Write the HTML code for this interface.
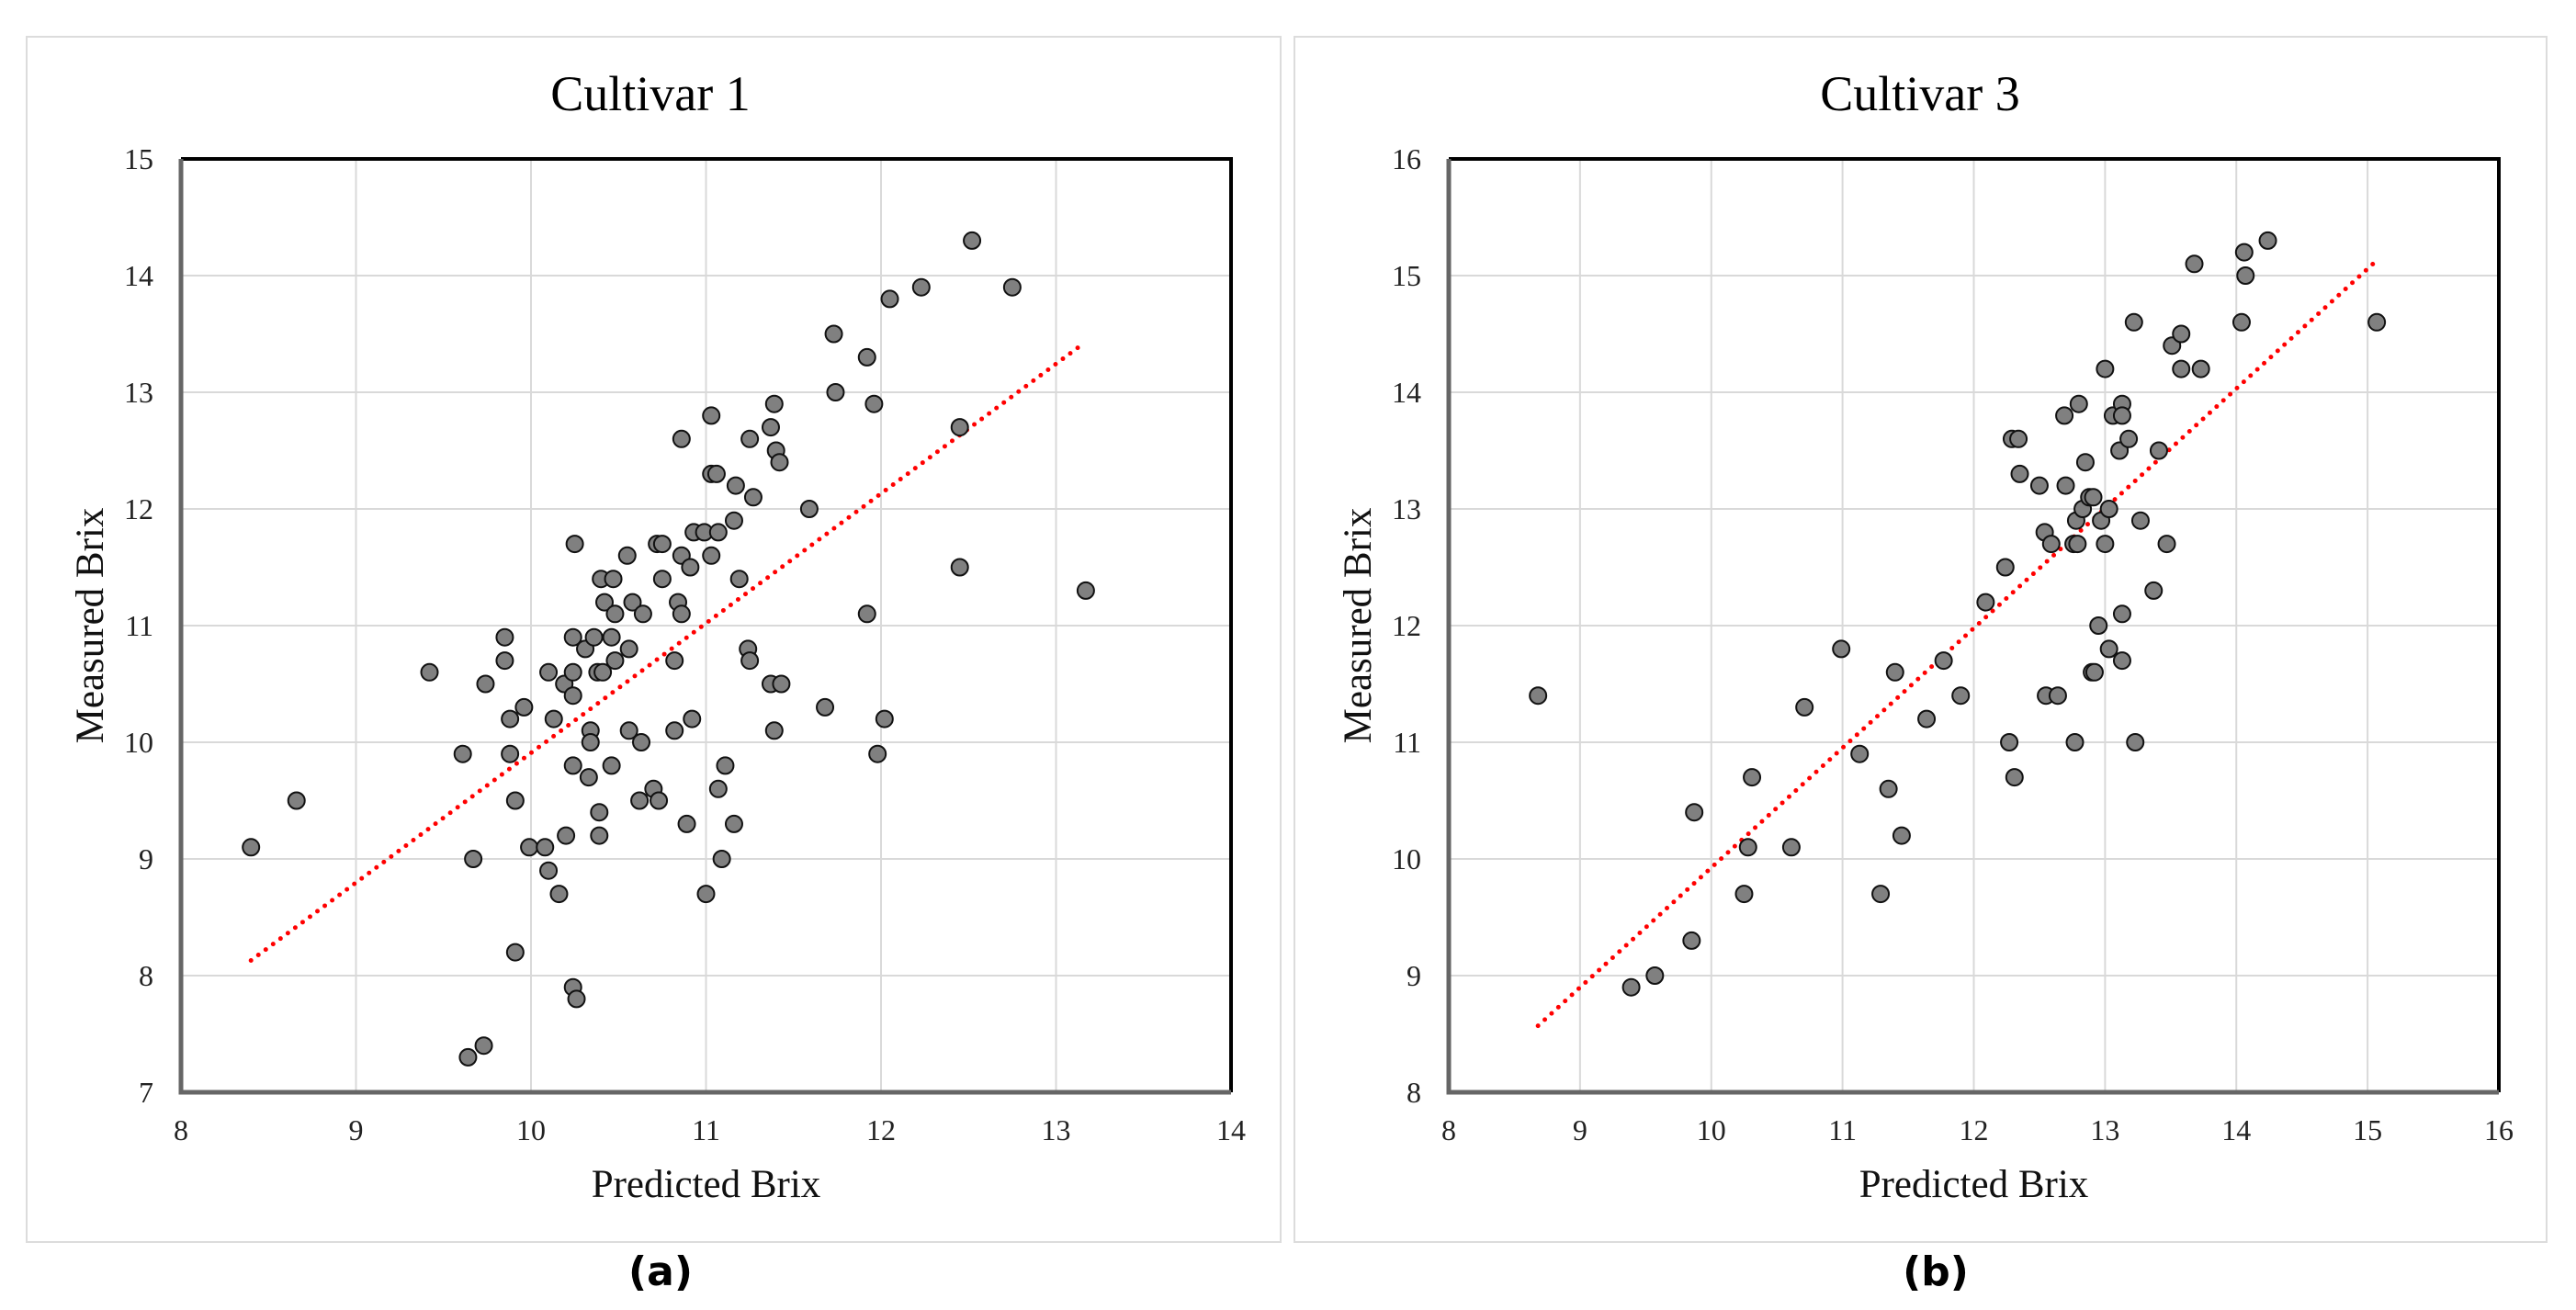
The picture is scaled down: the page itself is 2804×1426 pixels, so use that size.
<!DOCTYPE html>
<html><head><meta charset="utf-8"><style>
html,body{margin:0;padding:0;background:#fff;}
svg{display:block;}
</style></head><body>
<svg id="fig" width="2804" height="1426" viewBox="0 0 2804 1426" xmlns="http://www.w3.org/2000/svg">
<rect x="0" y="0" width="2804" height="1426" fill="#fff"/>
<rect x="29" y="40" width="1365" height="1312" fill="none" stroke="#dcdcdc" stroke-width="2"/>
<rect x="1409" y="40" width="1363" height="1312" fill="none" stroke="#dcdcdc" stroke-width="2"/>
<g id="chartA"></g>
<g id="chartB"></g>
<text x="719" y="1399" text-anchor="middle" font-family="DejaVu Sans, Liberation Sans, sans-serif" font-weight="bold" font-size="44">(a)</text>
<text x="2107" y="1399" text-anchor="middle" font-family="DejaVu Sans, Liberation Sans, sans-serif" font-weight="bold" font-size="44">(b)</text>
</svg>
<script>
// Cultivar 1 data
const predA = [8.40,8.66,9.42,9.61,9.64,9.67,9.73,9.74,9.85,9.85,9.88,9.88,9.91,9.91,9.96,9.99,10.08,10.10,10.10,10.13,10.16,10.19,10.20,10.24,10.24,10.24,10.24,10.24,10.25,10.26,10.31,10.33,10.34,10.34,10.36,10.38,10.39,10.39,10.40,10.41,10.42,10.46,10.46,10.47,10.48,10.48,10.55,10.56,10.56,10.58,10.62,10.63,10.64,10.70,10.72,10.73,10.75,10.75,10.82,10.82,10.84,10.86,10.86,10.86,10.89,10.91,10.92,10.93,10.99,11.00,11.03,11.03,11.03,11.06,11.07,11.07,11.09,11.11,11.16,11.16,11.17,11.19,11.24,11.25,11.25,11.27,11.37,11.37,11.39,11.39,11.40,11.42,11.43,11.59,11.68,11.73,11.74,11.92,11.92,11.96,11.98,12.02,12.05,12.23,12.45,12.45,12.52,12.75,13.17];
const measA = [9.1,9.5,10.6,9.9,7.3,9.0,7.4,10.5,10.9,10.7,10.2,9.9,9.5,8.2,10.3,9.1,9.1,10.6,8.9,10.2,8.7,10.5,9.2,10.9,10.6,10.4,9.8,7.9,11.7,7.8,10.8,9.7,10.1,10.0,10.9,10.6,9.2,9.4,11.4,10.6,11.2,10.9,9.8,11.4,11.1,10.7,11.6,10.1,10.8,11.2,9.5,10.0,11.1,9.6,11.7,9.5,11.7,11.4,10.1,10.7,11.2,11.6,11.1,12.6,9.3,11.5,10.2,11.8,11.8,8.7,12.8,11.6,12.3,12.3,11.8,9.6,9.0,9.8,11.9,9.3,12.2,11.4,10.8,10.7,12.6,12.1,12.7,10.5,12.9,10.1,12.5,12.4,10.5,12.0,10.3,13.5,13.0,13.3,11.1,12.9,9.9,10.2,13.8,13.9,12.7,11.5,14.3,13.9,11.3];
const trendA = [[8.40,8.13],[13.15,13.41]];
const xTicksA = [8,9,10,11,12,13,14];
const yTicksA = [7,8,9,10,11,12,13,14,15];
// Cultivar 3 data
const predB = [8.68,9.39,9.57,9.85,9.87,10.25,10.28,10.31,10.61,10.71,10.99,11.13,11.29,11.35,11.40,11.45,11.64,11.77,11.90,12.09,12.24,12.27,12.29,12.31,12.34,12.35,12.50,12.54,12.55,12.59,12.64,12.69,12.70,12.76,12.77,12.78,12.79,12.80,12.83,12.85,12.88,12.90,12.91,12.92,12.95,12.97,13.00,13.00,13.03,13.03,13.06,13.11,13.13,13.13,13.13,13.13,13.18,13.22,13.23,13.27,13.37,13.41,13.47,13.51,13.58,13.58,13.68,13.73,14.04,14.06,14.07,14.24,15.07];
const measB = [11.4,8.9,9.0,9.3,10.4,9.7,10.1,10.7,10.1,11.3,11.8,10.9,9.7,10.6,11.6,10.2,11.2,11.7,11.4,12.2,12.5,11.0,13.6,10.7,13.6,13.3,13.2,12.8,11.4,12.7,11.4,13.8,13.2,12.7,11.0,12.9,12.7,13.9,13.0,13.4,13.1,11.6,13.1,11.6,12.0,12.9,14.2,12.7,13.0,11.8,13.8,13.5,13.9,13.8,12.1,11.7,13.6,14.6,11.0,12.9,12.3,13.5,12.7,14.4,14.5,14.2,15.1,14.2,14.6,15.2,15.0,15.3,14.6];
const trendB = [[8.68,8.57],[15.08,15.14]];
const xTicksB = [8,9,10,11,12,13,14,15,16];
const yTicksB = [8,9,10,11,12,13,14,15,16];

const NS='http://www.w3.org/2000/svg';
function mk(parent,tag,attrs){const e=document.createElementNS(NS,tag);for(const k in attrs)e.setAttribute(k,attrs[k]);parent.appendChild(e);return e;}
const SERIF='"Liberation Serif", serif';

function draw(g, cfg){
  const {L,R,T,B,xTicks,yTicks,px,py,tr,title,titleX}=cfg;
  const x0=xTicks[0],x1=xTicks[xTicks.length-1],y0=yTicks[0],y1=yTicks[yTicks.length-1];
  const sx=v=>L+(v-x0)/(x1-x0)*(R-L);
  const sy=v=>B-(v-y0)/(y1-y0)*(B-T);
  const t=mk(g,'text',{x:titleX,y:120,'text-anchor':'middle','font-family':SERIF,'font-size':54,fill:'#000'});
  t.textContent=title;
  
  
  xTicks.forEach(v=>{
    if(v!==x0&&v!==x1){const l=mk(g,'line',{x1:sx(v),x2:sx(v),y1:T,y2:B,stroke:'#d9d9d9','stroke-width':2});
    
    }
    const tx=mk(g,'text',{x:sx(v),y:B+52,'text-anchor':'middle','font-family':SERIF,'font-size':32,fill:'#222'});
    tx.textContent=v;
    
    
  });
  yTicks.forEach(v=>{
    if(v!==y0&&v!==y1){const l=mk(g,'line',{x1:L,x2:R,y1:sy(v),y2:sy(v),stroke:'#d9d9d9','stroke-width':2});
    
    }
    const ty=mk(g,'text',{x:L-30,y:sy(v)+11,'text-anchor':'end','font-family':SERIF,'font-size':32,fill:'#222'});
    ty.textContent=v;
    
    
  });
  const fr=mk(g,'path',{d:`M${L},${T}H${R}V${B}`,fill:'none',stroke:'#000','stroke-width':4});
  
  
  const ax=mk(g,'path',{d:`M${L},${T}V${B}H${R}`,fill:'none',stroke:'#666','stroke-width':5});
  
  
  const tl=mk(g,'line',{x1:sx(tr[0][0]),y1:sy(tr[0][1]),x2:sx(tr[1][0]),y2:sy(tr[1][1]),stroke:'#ff0000','stroke-width':5,'stroke-dasharray':'0 10','stroke-linecap':'round'});
  
  
  px.forEach((v,i)=>{
    const c=mk(g,'circle',{cx:sx(v),cy:sy(py[i]),r:9,fill:'#808080',stroke:'#111','stroke-width':2});
    
    
  });
  const xt=mk(g,'text',{x:(L+R)/2,y:B+114,'text-anchor':'middle','font-family':SERIF,'font-size':43,fill:'#111'});
  xt.textContent='Predicted Brix';
  
  
  const yc=(T+B)/2, yx=L-100;
  const yt=mk(g,'text',{x:yx,y:yc,'text-anchor':'middle','font-family':SERIF,'font-size':43,fill:'#111',transform:`rotate(-90 ${yx} ${yc}) translate(0 15)`});
  yt.textContent='Measured Brix';
  
  
}
draw(document.getElementById('chartA'),{L:197,R:1340,T:173,B:1189,xTicks:xTicksA,yTicks:yTicksA,px:predA,py:measA,tr:trendA,title:'Cultivar 1',titleX:708});
draw(document.getElementById('chartB'),{L:1577,R:2720,T:173,B:1189,xTicks:xTicksB,yTicks:yTicksB,px:predB,py:measB,tr:trendB,title:'Cultivar 3',titleX:2090});
</script>
</body></html>
